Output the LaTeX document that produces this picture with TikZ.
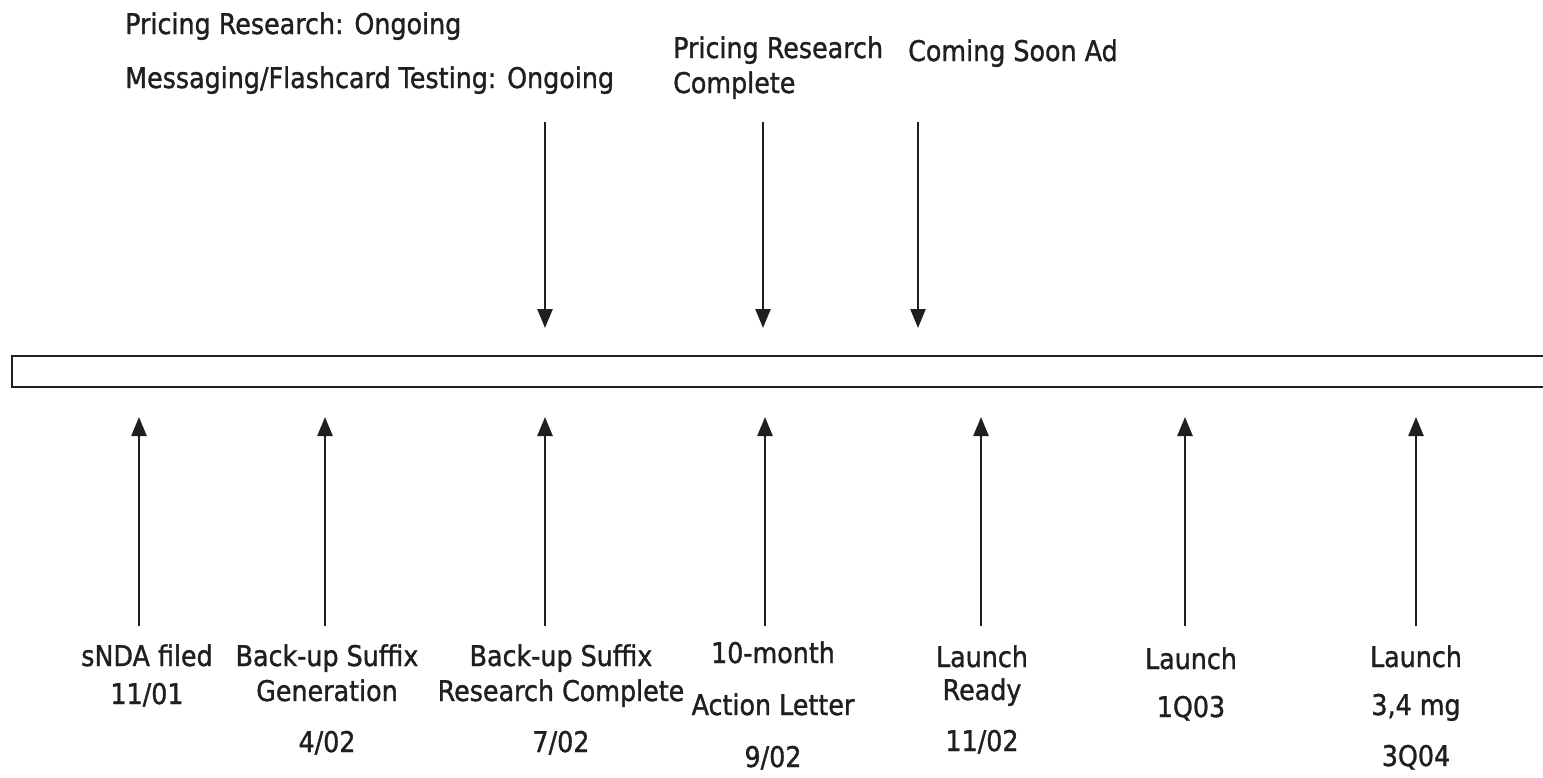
\documentclass[tikz,border=0pt]{standalone}
\usepackage{fontspec}
\setmainfont{DejaVu Sans}[FakeStretch=0.89,FakeBold=1.2]
\usetikzlibrary{arrows.meta}
\tikzset{
  lbl/.style={anchor=base, inner sep=0pt, font=\fontsize{28.5}{32}\selectfont, text=black!88},
  lbll/.style={lbl, anchor=base west},
  tl/.style={line width=2.5pt, black!88, -{Triangle[width=15pt,length=19pt]}},
  bar/.style={line width=2.4pt, black!88}
}
\begin{document}
\begin{tikzpicture}[x=1pt,y=-1pt]
\useasboundingbox (0,0) rectangle (1543,777);
% timeline bar
\draw[bar] (1550,356) -- (12,356) -- (12,387) -- (1550,387);
% top texts
\node[lbll] (t1) at (125,34) {Pricing Research: Ongoing};
\node[lbll] (t2) at (125,88) {Messaging/Flashcard Testing: Ongoing};
\node[lbll] (t3a) at (673,58) {Pricing Research};
\node[lbll] (t3b) at (673,93) {Complete};
\node[lbll] (t4) at (908,61) {Coming Soon Ad};
% top arrows
\foreach \n/\x in {a/545,b/763,c/918}{
  \coordinate (ds\n) at (\x,122);
  \coordinate (de\n) at (\x,328);
  \draw[tl] (ds\n) -- (de\n);
}
% bottom arrows
\foreach \n/\x in {a/139,b/325,c/545,d/765,e/981,f/1185,g/1416}{
  \coordinate (us\n) at (\x,626);
  \coordinate (ue\n) at (\x,417);
  \draw[tl] (us\n) -- (ue\n);
}
% bottom labels
\node[lbl] (b1a) at (147,666) {sNDA filed};
\node[lbl] (b1b) at (147,704) {11/01};
\node[lbl] (b2a) at (327,666) {Back-up Suffix};
\node[lbl] (b2b) at (327,701) {Generation};
\node[lbl] (b2c) at (327,752) {4/02};
\node[lbl] (b3a) at (561,666) {Back-up Suffix};
\node[lbl] (b3b) at (561,701) {Research Complete};
\node[lbl] (b3c) at (561,752) {7/02};
\node[lbl] (b4a) at (773,663) {10-month};
\node[lbl] (b4b) at (773,715) {Action Letter};
\node[lbl] (b4c) at (773,767) {9/02};
\node[lbl] (b5a) at (982,667) {Launch};
\node[lbl] (b5b) at (982,700) {Ready};
\node[lbl] (b5c) at (982,751) {11/02};
\node[lbl] (b6a) at (1191,669) {Launch};
\node[lbl] (b6b) at (1191,717) {1Q03};
\node[lbl] (b7a) at (1416,667) {Launch};
\node[lbl] (b7b) at (1416,715) {3,4 mg};
\node[lbl] (b7c) at (1416,766) {3Q04};
\end{tikzpicture}
\end{document}
